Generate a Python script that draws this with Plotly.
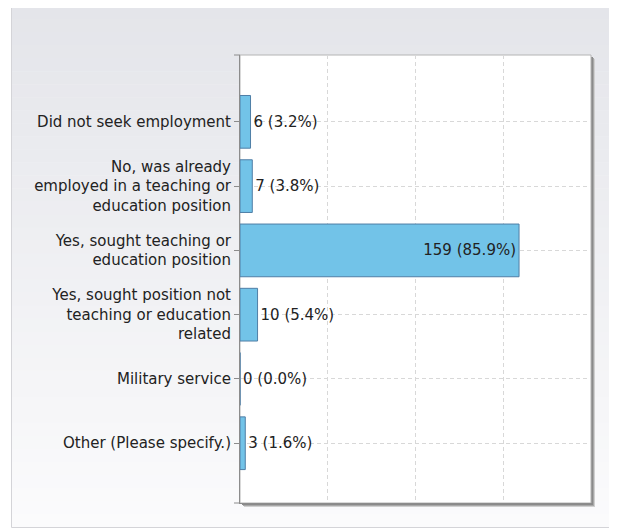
import plotly.graph_objects as go

# data
categories = [
    "Did not seek employment",
    "No, was already<br>employed in a teaching or<br>education position",
    "Yes, sought teaching or<br>education position",
    "Yes, sought position not<br>teaching or education<br>related",
    "Military service",
    "Other (Please specify.)",
]
counts = [6, 7, 159, 10, 0, 3]
percents = [3.2, 3.8, 85.9, 5.4, 0.0, 1.6]

labels = [f"{c} ({p:.1f}%)" for c, p in zip(counts, percents)]
positions = ["inside" if c > 100 else "outside" for c in counts]

# page geometry (pixels); the html body adds an 8px margin
OFF = 8
WIDTH, HEIGHT = 617 - OFF, 529 - OFF
L, T = 240 - OFF, 55 - OFF
PW, PH = 351, 448
R = WIDTH - L - PW
B = HEIGHT - T - PH


def px(x):
    # screen pixel -> paper x
    return (x - OFF - L) / PW


def py(y):
    # screen pixel -> paper y
    return (T + PH - (y - OFF)) / PH


shapes = []

# gradient panel built from thin bands
top_c = (228, 229, 234)
bot_c = (251, 251, 252)
y_top, y_bot = 6, 527
n = 40
for i in range(n):
    f = i / (n - 1)
    c = tuple(round(a + (b - a) * f) for a, b in zip(top_c, bot_c))
    y0 = y_top + (y_bot - y_top) * i / n
    y1 = y_top + (y_bot - y_top) * (i + 1) / n + 0.5
    shapes.append(dict(type="rect", xref="paper", yref="paper",
                       x0=px(12), x1=px(620), y0=py(y0), y1=py(y1),
                       fillcolor="rgb(%d,%d,%d)" % c, line=dict(width=0),
                       layer="below"))
# panel border
shapes.append(dict(type="rect", xref="paper", yref="paper",
                   x0=px(11.5), x1=px(620), y0=py(5.5), y1=py(527.5),
                   fillcolor="rgba(0,0,0,0)", line=dict(color="#d4d4d8", width=1),
                   layer="below"))

# drop shadow + white plot area
for off, col in [(4, "#d0d0d0"), (3, "#a8a8a8"), (2, "#8a8a8a")]:
    shapes.append(dict(type="rect", xref="paper", yref="paper",
                       x0=off / PW, x1=1 + off / PW,
                       y0=-off / PH, y1=1 - off / PH,
                       fillcolor=col, line=dict(width=0), layer="below"))
shapes.append(dict(type="rect", xref="paper", yref="paper",
                   x0=0, x1=1, y0=0, y1=1,
                   fillcolor="white", line=dict(color="#b4b4b4", width=1),
                   layer="below"))

# little end ticks at top and bottom of the category axis
for yy in (0, 1):
    shapes.append(dict(type="line", xref="paper", yref="paper",
                       x0=-6 / PW, x1=0, y0=yy, y1=yy,
                       line=dict(color="#8c8c8c", width=1)))

fig = go.Figure()
fig.add_trace(go.Bar(
    x=counts,
    y=categories,
    orientation="h",
    width=0.82,
    marker=dict(color="#72c3e8", line=dict(color="#4f7ea6", width=1)),
    text=labels,
    textposition=positions,
    insidetextanchor="end",
    textfont=dict(family="DejaVu Sans", size=15, color="#222222"),
    insidetextfont=dict(family="DejaVu Sans", size=15, color="#222222"),
    outsidetextfont=dict(family="DejaVu Sans", size=15, color="#222222"),
    cliponaxis=False,
    hoverinfo="skip",
))

fig.update_layout(
    width=WIDTH,
    height=HEIGHT,
    margin=dict(l=L, r=R, t=T, b=B),
    paper_bgcolor="white",
    plot_bgcolor="rgba(0,0,0,0)",
    showlegend=False,
    shapes=shapes,
    font=dict(family="DejaVu Sans", size=15, color="#222222"),
    xaxis=dict(range=[0, 200], dtick=50, showticklabels=False, ticks="",
               showgrid=True, gridcolor="#d8d8d8", griddash="4px,3px",
               zeroline=False, showline=True, linecolor="#8c8c8c",
               mirror=False),
    yaxis=dict(range=[5.93, -1.04], showgrid=True, gridcolor="#d8d8d8",
               griddash="4px,3px", ticks="outside", ticklen=5, tickcolor="#8c8c8c",
               showline=True, linecolor="#8c8c8c", zeroline=False,
               tickfont=dict(family="DejaVu Sans", size=15, color="#222222")),
)

fig.write_html("out.html")
